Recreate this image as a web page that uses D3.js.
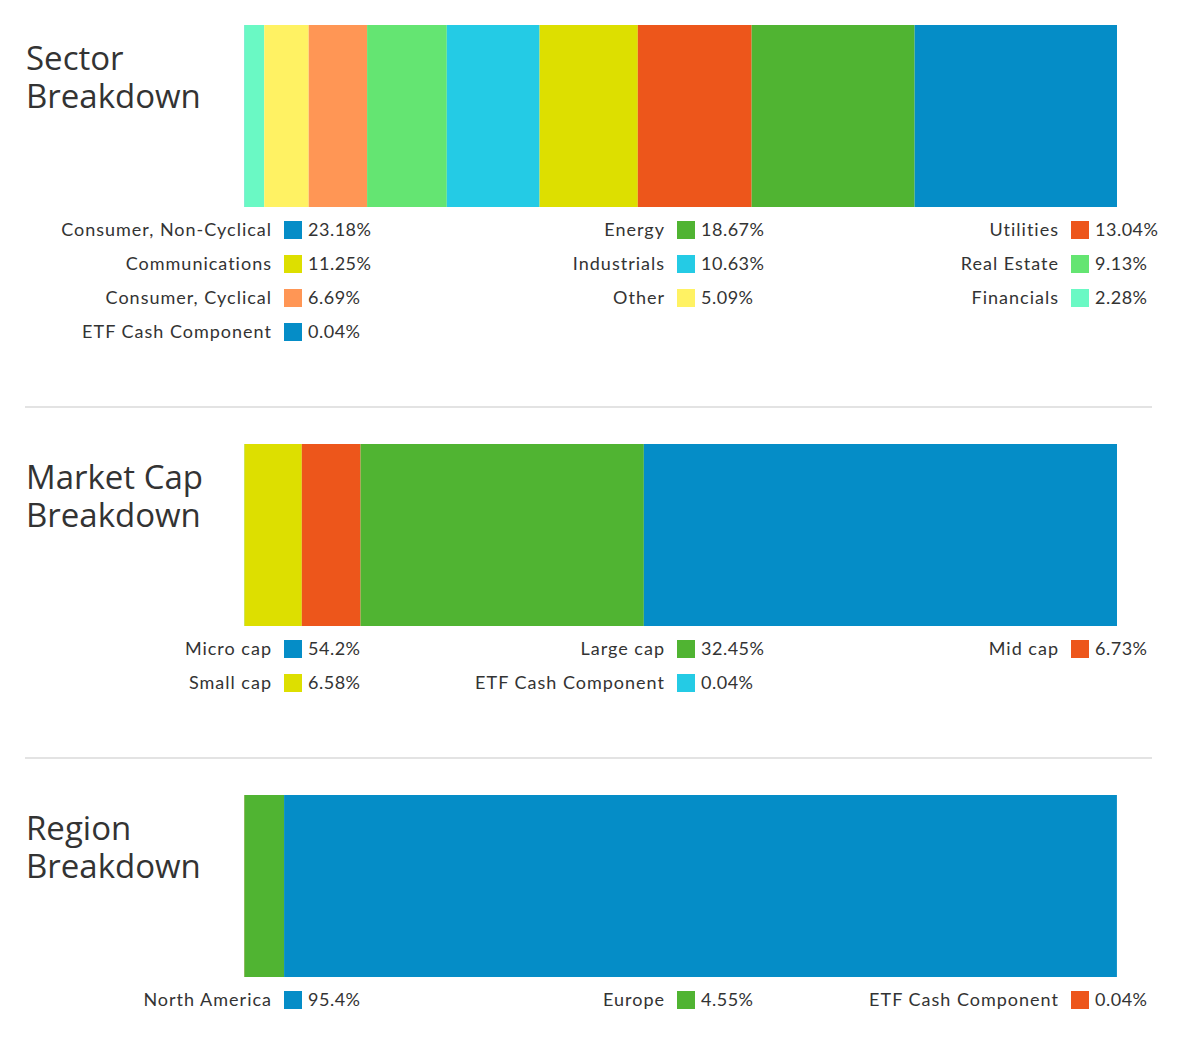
<!DOCTYPE html>
<html>
<head>
<meta charset="utf-8">
<script src="https://cdn.jsdelivr.net/npm/d3@7"></script>
<style>
  html, body { margin: 0; padding: 0; background: #fff; }
  svg { display: block; }
</style>
</head>
<body>
<svg id="chart" width="1200" height="1042"></svg>
<script>
// ---- Data (legend order) ----
const sectorLabels = ["Consumer, Non-Cyclical", "Energy", "Utilities", "Communications", "Industrials", "Real Estate", "Consumer, Cyclical", "Other", "Financials", "ETF Cash Component"];
const sectorValues = [23.18, 18.67, 13.04, 11.25, 10.63, 9.13, 6.69, 5.09, 2.28, 0.04];
const sectorText   = ["23.18%", "18.67%", "13.04%", "11.25%", "10.63%", "9.13%", "6.69%", "5.09%", "2.28%", "0.04%"];

const capLabels = ["Micro cap", "Large cap", "Mid cap", "Small cap", "ETF Cash Component"];
const capValues = [54.2, 32.45, 6.73, 6.58, 0.04];
const capText   = ["54.2%", "32.45%", "6.73%", "6.58%", "0.04%"];

const regionLabels = ["North America", "Europe", "ETF Cash Component"];
const regionValues = [95.4, 4.55, 0.04];
const regionText   = ["95.4%", "4.55%", "0.04%"];

const palette = ["#058DC7", "#50B432", "#ED561B", "#DDDF00", "#24CBE5", "#64E572", "#FF9655", "#FFF263", "#6AF9C4"];

const sections = [
  { title: ["Sector", "Breakdown"], labels: sectorLabels, values: sectorValues, text: sectorText, top: 25 },
  { title: ["Market Cap", "Breakdown"], labels: capLabels, values: capValues, text: capText, top: 444 },
  { title: ["Region", "Breakdown"], labels: regionLabels, values: regionValues, text: regionText, top: 795 }
];
const separators = [407, 758];

// ---- Layout ----
const svg = d3.select("#chart");
const x = d3.scaleLinear().domain([0, 100]).range([244, 1117]);
const barH = 182;
const swatchX = [284, 677, 1071];
const rowH = 34;

sections.forEach(sec => {
  const g = svg.append("g");
  const col = d3.scaleOrdinal().domain(sec.labels).range(palette);

  // title
  sec.title.forEach((line, i) => {
    g.append("text")
      .attr("x", 26)
      .attr("y", sec.top + 45 + i * 38)
      .attr("font-family", "'Open Sans', sans-serif")
      .attr("font-size", 33)
      .attr("fill", "#333")
      .text(line);
  });

  // stacked bar (stack order reversed from legend order, like Highcharts)
  const items = sec.labels.map((l, i) => ({ label: l, value: sec.values[i], text: sec.text[i], idx: i }));
  const stackOrder = items.slice().reverse();
  let acc = 0;
  stackOrder.forEach(d => { d.x0 = acc; acc += d.value; d.x1 = acc; });
  g.selectAll("rect.seg").data(stackOrder).join("rect")
    .attr("class", "seg")
    .attr("x", d => x(d.x0))
    .attr("y", sec.top)
    .attr("width", d => Math.max(0, x(d.x1) - x(d.x0)))
    .attr("height", barH)
    .attr("fill", d => col(d.label));

  // legend
  const legTop = sec.top + barH + 14;
  const lg = g.selectAll("g.leg").data(items).join("g")
    .attr("class", "leg")
    .attr("transform", d => `translate(${swatchX[d.idx % 3]},${legTop + Math.floor(d.idx / 3) * rowH})`);
  lg.append("rect").attr("x", 0).attr("y", 0).attr("width", 18).attr("height", 18)
    .attr("fill", d => col(d.label));
  lg.append("text").attr("x", -12).attr("y", 15)
    .attr("text-anchor", "end")
    .attr("letter-spacing", 1)
    .attr("font-family", "Lato, sans-serif").attr("font-size", 18).attr("fill", "#333")
    .text(d => d.label);
  lg.append("text").attr("x", 24).attr("y", 15)
    .attr("letter-spacing", 0.5)
    .attr("font-family", "Lato, sans-serif").attr("font-size", 18).attr("fill", "#333")
    .text(d => d.text);
});

svg.selectAll("line.sep").data(separators).join("line")
  .attr("class", "sep")
  .attr("x1", 25).attr("x2", 1152)
  .attr("y1", d => d).attr("y2", d => d)
  .attr("stroke", "#e3e3e3").attr("stroke-width", 2);
</script>
</body>
</html>
